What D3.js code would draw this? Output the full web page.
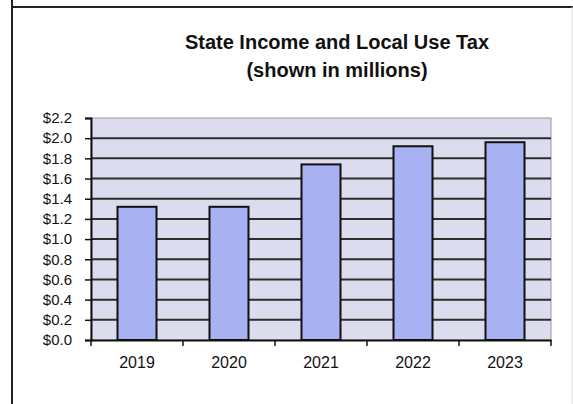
<!DOCTYPE html>
<html><head><meta charset="utf-8">
<script src="https://cdn.jsdelivr.net/npm/d3@7"></script>
<style>body{margin:0;background:#fff}svg{display:block}</style>
</head><body>
<script>
const categories = ["2019","2020","2021","2022","2023"];
const values = [1.32, 1.32, 1.74, 1.92, 1.96];
const yTicks = [0,0.2,0.4,0.6,0.8,1.0,1.2,1.4,1.6,1.8,2.0,2.2];
const titleLines = ["State Income and Local Use Tax","(shown in millions)"];

const W=573,H=404;
const svg=d3.select("body").append("svg").attr("width",W).attr("height",H);
const font="'Liberation Sans', Arial, sans-serif";

// outer frame
svg.append("line").attr("x1",12).attr("x2",12).attr("y1",0).attr("y2",H).attr("stroke","#222").attr("stroke-width",2);
svg.append("line").attr("x1",12).attr("x2",W).attr("y1",7).attr("y2",7).attr("stroke","#222").attr("stroke-width",2);
svg.append("line").attr("x1",572).attr("x2",572).attr("y1",7).attr("y2",H).attr("stroke","#ddd").attr("stroke-width",1);

const L=91,R=551,T=118,B=340;
const x=d3.scaleBand().domain(categories).range([L,R]).paddingInner(0).paddingOuter(0);
const y=d3.scaleLinear().domain([0,2.2]).range([B,T]);

svg.append("rect").attr("x",L).attr("y",T).attr("width",R-L).attr("height",B-T).attr("fill","#dcdcee").attr("stroke","#999").attr("stroke-width",1);

// gridlines
svg.append("g").selectAll("line").data(yTicks.filter(d=>d>0&&d<2.2)).join("line")
 .attr("x1",L).attr("x2",R).attr("y1",d=>y(d)).attr("y2",d=>y(d))
 .attr("stroke","#2a2f2a").attr("stroke-width",2);

// bars
const bw=39;
svg.append("g").selectAll("rect").data(values).join("rect")
 .attr("x",(d,i)=>x(categories[i])+x.bandwidth()/2-bw/2)
 .attr("y",d=>y(d)).attr("width",bw).attr("height",d=>y(0)-y(d))
 .attr("fill","#a8b2f2").attr("stroke","#111").attr("stroke-width",2);

// y axis
const ya=svg.append("g").attr("transform",`translate(${L},0)`)
 .call(d3.axisLeft(y).tickValues(yTicks).tickSize(6).tickPadding(13).tickFormat(d=>"$"+d.toFixed(1)));
ya.select(".domain").attr("stroke","#111").attr("stroke-width",2);
ya.selectAll(".tick line").attr("stroke","#111").attr("stroke-width",1.5);
ya.selectAll("text").attr("font-family",font).attr("font-size",15).attr("fill","#111");

// x axis
const xa=svg.append("g").attr("transform",`translate(0,${B})`)
 .call(d3.axisBottom(x).tickSize(0).tickPadding(17));
xa.select(".domain").attr("stroke","#111").attr("stroke-width",2);
xa.selectAll("text").attr("font-family",font).attr("font-size",16).attr("fill","#111").attr("dy","0.71em");
xa.selectAll(".bnd").data(d3.range(categories.length+1)).join("line").attr("class","bnd")
 .attr("x1",i=>L+i*x.bandwidth()).attr("x2",i=>L+i*x.bandwidth()).attr("y1",0).attr("y2",6)
 .attr("stroke","#111").attr("stroke-width",1.5);

// title
svg.append("g").selectAll("text").data(titleLines).join("text")
 .attr("x",337).attr("y",(d,i)=>49+i*28).attr("text-anchor","middle")
 .attr("font-family",font).attr("font-weight","bold").attr("font-size",20).attr("fill","#111")
 .text(d=>d);
</script>
</body></html>
